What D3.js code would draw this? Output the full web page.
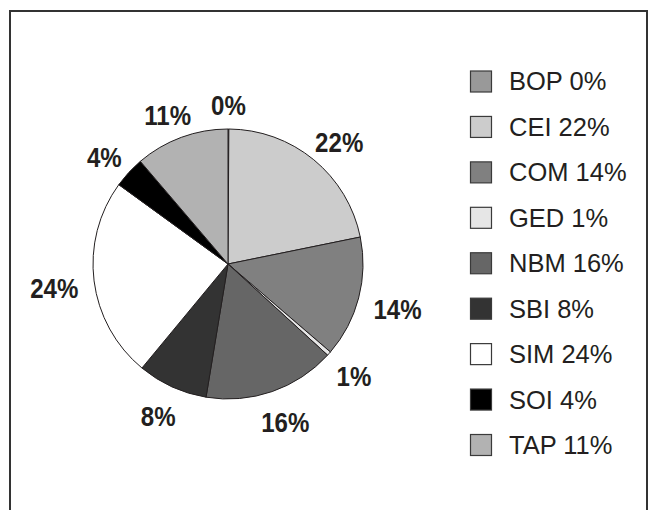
<!DOCTYPE html>
<html lang="en">
<head>
<meta charset="utf-8">
<title>Share by category</title>
<script src="https://d3js.org/d3.v7.min.js"></script>
<style>
  body { margin: 0; background: #fff; }
  .pct { font-family: 'Liberation Sans', Arial, sans-serif; font-weight: bold; font-size: 28px; fill: #231f20; }
  .legend text { font-family: 'Liberation Sans', Arial, sans-serif; font-size: 25.5px; fill: #231f20; }
</style>
</head>
<body>
<div id="chart"></div>
<script>

// categories, shares (percent) and displayed labels
var categories = ["BOP", "CEI", "COM", "GED", "NBM", "SBI", "SIM", "SOI", "TAP"];
var shares     = [0.1, 21.7, 14.5, 0.5, 15.8, 8.4, 24, 3.75, 11.25];
var labels     = ["0%", "22%", "14%", "1%", "16%", "8%", "24%", "4%", "11%"];
var fills      = ["#999999", "#cccccc", "#808080", "#e6e6e6", "#666666", "#333333", "#ffffff", "#000000", "#b2b2b2"];

var W = 650, H = 510;
var cx = 228, cy = 264, r = 135;

var svg = d3.select("#chart").append("svg")
  .attr("width", W)
  .attr("height", H);

// frame (open at the bottom)
svg.append("path")
  .attr("d", "M10," + H + "V11H647V" + H)
  .attr("fill", "none")
  .attr("stroke", "#333")
  .attr("stroke-width", 2);

var pie = d3.pie().sort(null).value(function(d) { return d; });
var arcs = pie(shares);
var arc = d3.arc().innerRadius(0).outerRadius(r);

var g = svg.append("g").attr("transform", "translate(" + cx + "," + cy + ")");

g.selectAll("path.slice")
  .data(arcs)
  .enter()
  .append("path")
    .attr("class", "slice")
    .attr("d", arc)
    .attr("fill", function(d, i) { return fills[i]; })
    .attr("stroke", "#231f20")
    .attr("stroke-width", 1);

// percentage labels sit just outside the rim, box pushed away from the centre
// (the original font is a bit condensed, hence the horizontal squeeze)
var gap = 16, squeeze = 0.86, nudge = 4;
g.selectAll("text.pct")
  .data(arcs)
  .enter()
  .append("text")
    .attr("class", "pct")
    .attr("text-anchor", "middle")
    .attr("dominant-baseline", "central")
    .text(function(d, i) { return labels[i]; })
    .each(function(d) {
      var a = (d.startAngle + d.endAngle) / 2;
      var ux = Math.sin(a), uy = -Math.cos(a);
      var bb = this.getBBox();
      var x = ux * (r + gap) + ux * bb.width * squeeze / 2;
      var y = uy * (r + gap) + uy * 12 + nudge;
      d3.select(this).attr("transform", "translate(" + x + "," + y + ") scale(" + squeeze + ",1)");
    });

// legend
var rowY = d3.scalePoint()
  .domain(categories)
  .range([81.5, 445])
  .padding(0);

var legend = svg.append("g").attr("class", "legend");
var rows = legend.selectAll("g")
  .data(categories)
  .enter()
  .append("g")
    .attr("transform", function(d) { return "translate(470," + rowY(d) + ")"; });

rows.append("rect")
  .attr("x", 0.5)
  .attr("y", -10.5)
  .attr("width", 21)
  .attr("height", 21)
  .attr("fill", function(d, i) { return fills[i]; })
  .attr("stroke", "#3a3a3a")
  .attr("stroke-width", 1.2);

rows.append("text")
  .attr("x", 39)
  .attr("y", 0)
  .attr("dy", "0.35em")
  .text(function(d, i) { return d + " " + labels[i]; });

</script>
</body>
</html>
